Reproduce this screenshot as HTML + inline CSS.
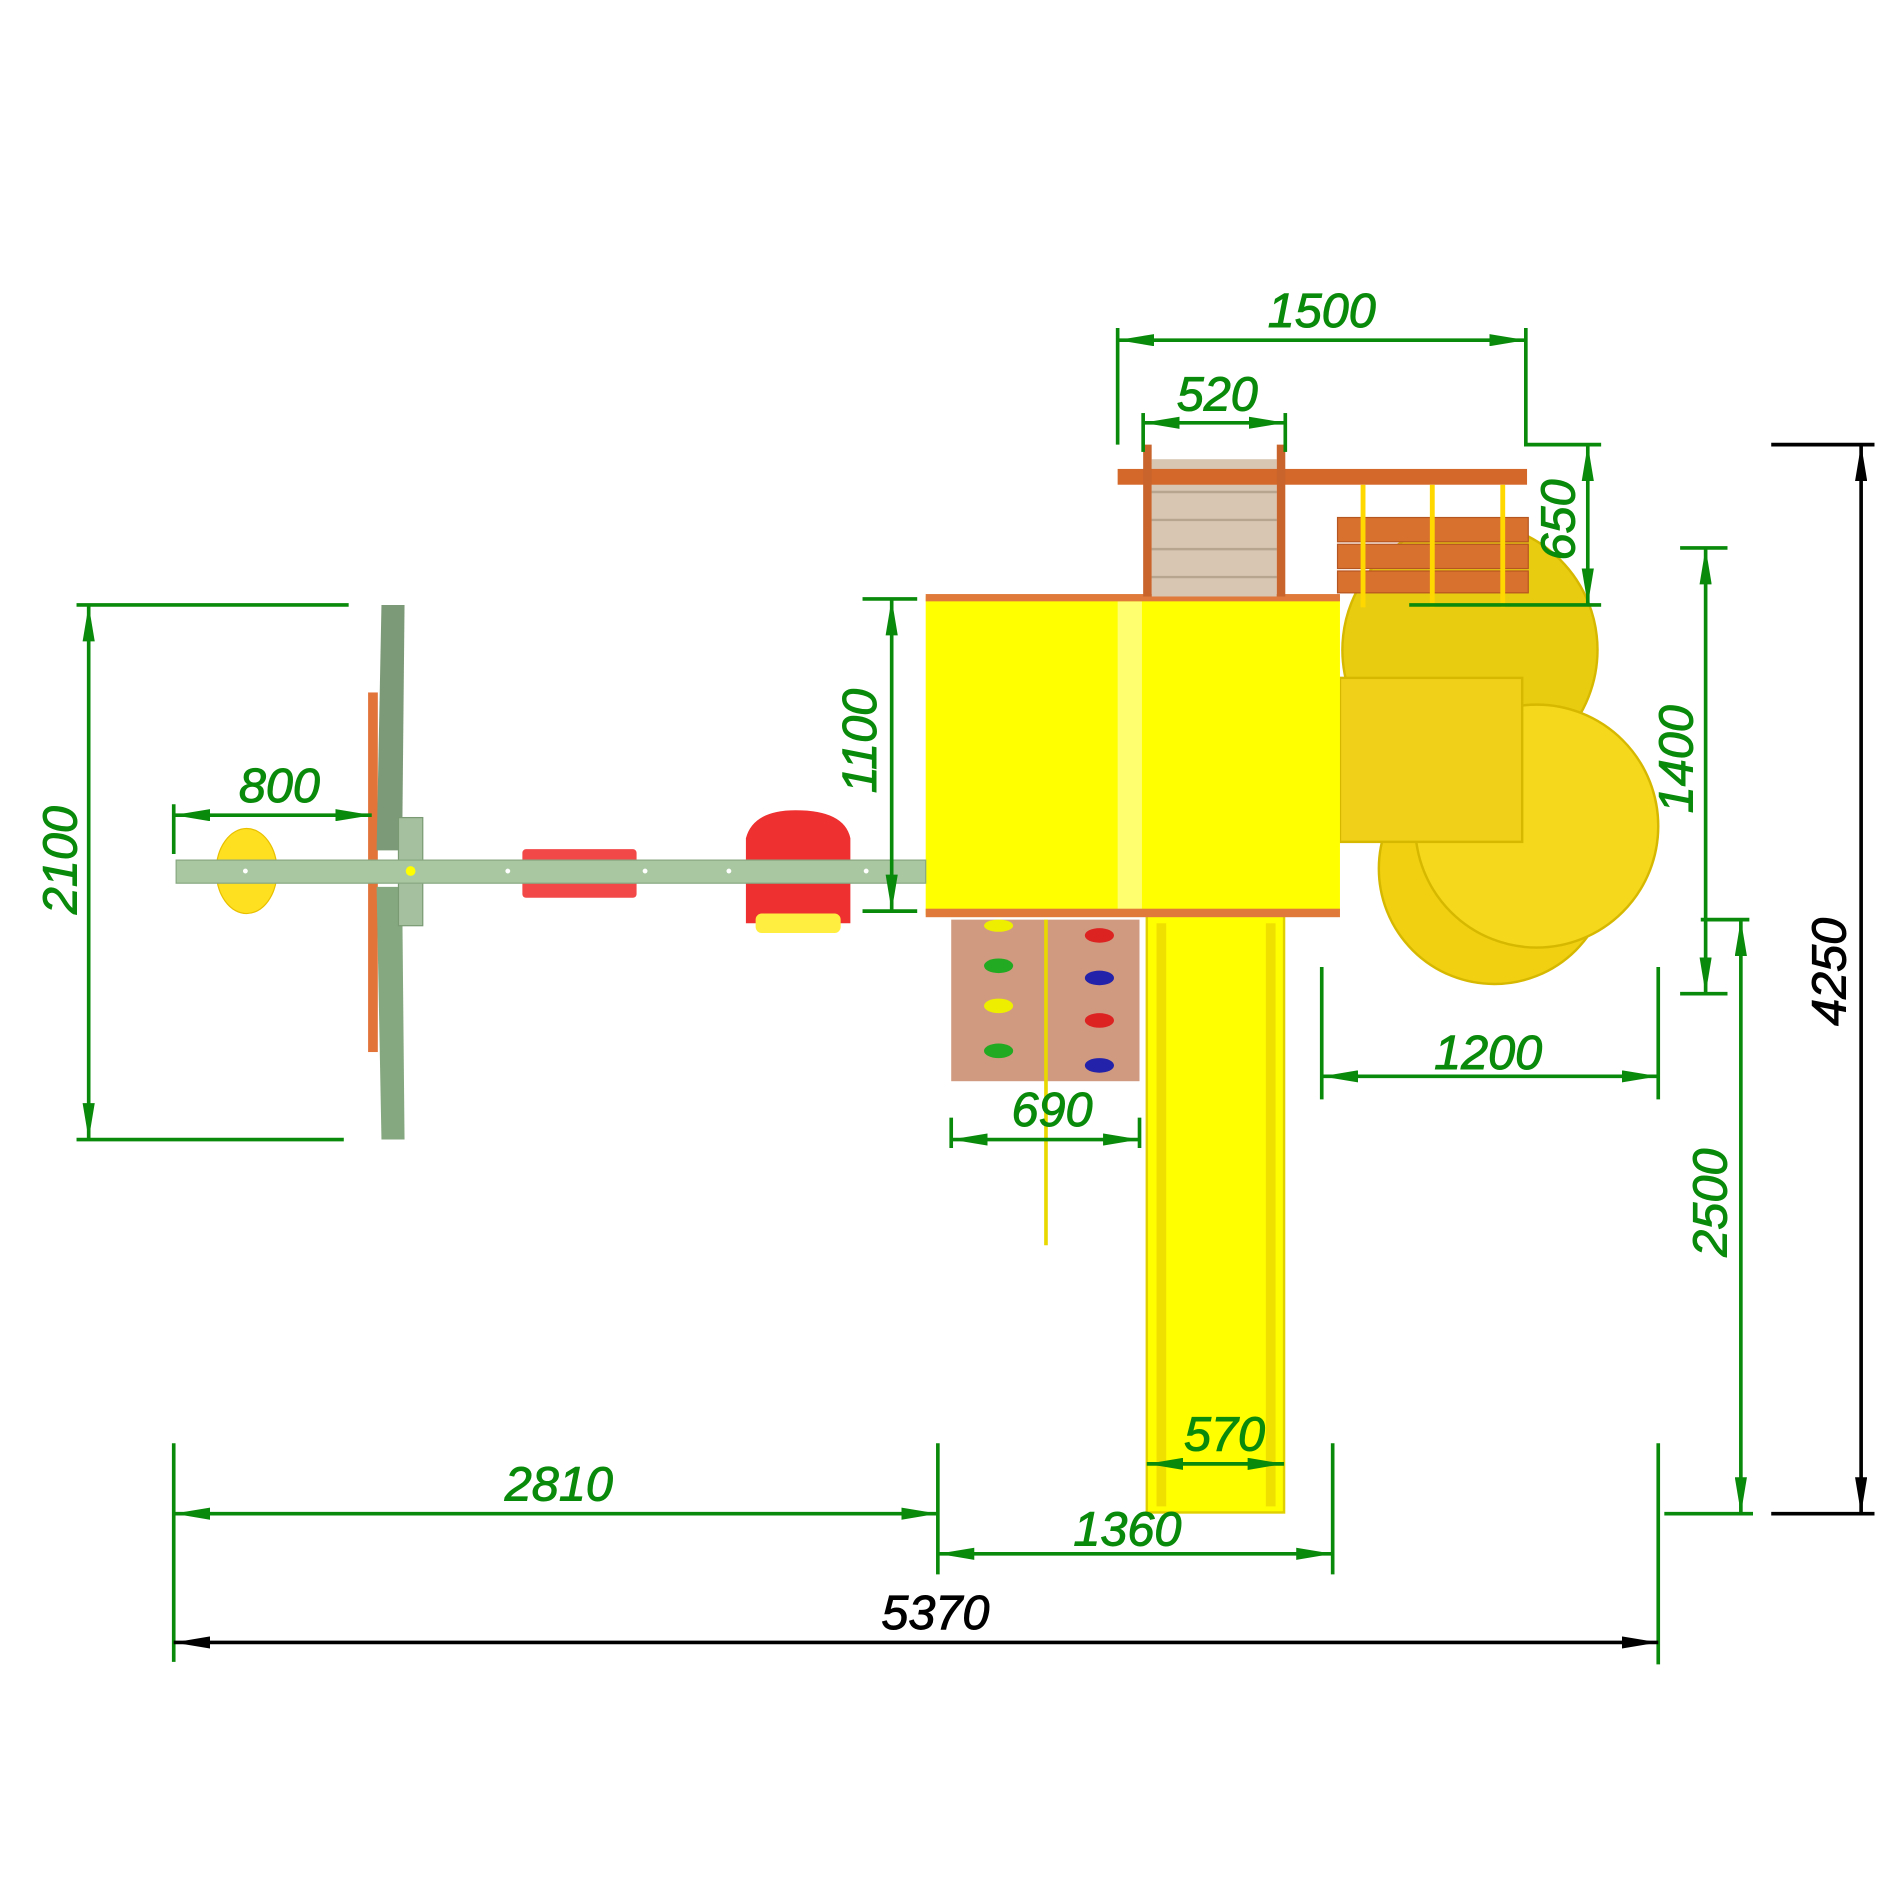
<!DOCTYPE html>
<html><head><style>html,body{margin:0;padding:0;background:#fff}svg{display:block}</style></head>
<body>
<svg width="1900" height="1900" viewBox="0 0 1564 1564" xmlns="http://www.w3.org/2000/svg">
<defs>
<marker id="g" viewBox="0 0 30 10" refX="30" refY="5" markerWidth="30" markerHeight="10" markerUnits="userSpaceOnUse" orient="auto-start-reverse"><path d="M0,0 L30,5 L0,10 Z" fill="#0a8a0a"/></marker>
<marker id="k" viewBox="0 0 30 10" refX="30" refY="5" markerWidth="30" markerHeight="10" markerUnits="userSpaceOnUse" orient="auto-start-reverse"><path d="M0,0 L30,5 L0,10 Z" fill="#000"/></marker>
</defs>

<!-- spiral slide -->
<g stroke="#d6b800" stroke-width="2">
<circle cx="1210" cy="535" r="105" fill="#e8cc10"/>
<circle cx="1230" cy="715" r="95" fill="#f0d010"/>
<circle cx="1265" cy="680" r="100" fill="#f5d81c"/>
<rect x="1103" y="558" width="150" height="135" fill="#f0d018"/>
</g>
<!-- straight slide -->
<rect x="944" y="753" width="113" height="492" fill="#ffff00" stroke="#e0d000" stroke-width="2"/>
<rect x="952" y="760" width="8" height="480" fill="#f0e000"/>
<rect x="1042" y="760" width="8" height="480" fill="#f0e000"/>

<!-- climbing wall -->
<rect x="783" y="757" width="155" height="133" fill="#d09a80"/>
<g fill="#d22" ><ellipse cx="905" cy="770" rx="12" ry="6"/><ellipse cx="905" cy="840" rx="12" ry="6"/></g>
<g fill="#22a"><ellipse cx="905" cy="805" rx="12" ry="6"/><ellipse cx="905" cy="877" rx="12" ry="6"/></g>
<g fill="#2a2"><ellipse cx="822" cy="795" rx="12" ry="6"/><ellipse cx="822" cy="865" rx="12" ry="6"/></g>
<g fill="#ee0"><ellipse cx="822" cy="762" rx="12" ry="5"/><ellipse cx="822" cy="828" rx="12" ry="6"/></g>
<line x1="861" y1="757" x2="861" y2="1025" stroke="#e8d800" stroke-width="3"/>

<!-- tower -->
<rect x="762" y="491" width="341" height="262" fill="#ffff00"/>
<rect x="920" y="495" width="20" height="254" fill="#ffff70"/>
<rect x="762" y="489" width="341" height="6" fill="#e07a3a"/>
<rect x="762" y="748" width="341" height="7" fill="#e07a3a"/>

<!-- stairs & beam -->
<rect x="948" y="378" width="103" height="113" fill="#d8c6b2"/>
<g stroke="#b8a590" stroke-width="2"><line x1="948" y1="405" x2="1051" y2="405"/><line x1="948" y1="428" x2="1051" y2="428"/><line x1="948" y1="452" x2="1051" y2="452"/><line x1="948" y1="475" x2="1051" y2="475"/></g>
<rect x="920" y="386" width="337" height="13" fill="#d4682a"/>
<rect x="941" y="366" width="7" height="125" fill="#c8642c"/>
<rect x="1051" y="366" width="7" height="125" fill="#c8642c"/>
<rect x="1101" y="426" width="157" height="20" fill="#d8702e" stroke="#b55520"/>
<rect x="1101" y="448" width="157" height="20" fill="#d8702e" stroke="#b55520"/>
<rect x="1101" y="470" width="157" height="18" fill="#d8702e" stroke="#b55520"/>
<g stroke="#ffd800" stroke-width="4"><line x1="1122" y1="399" x2="1122" y2="500"/><line x1="1179" y1="399" x2="1179" y2="500"/><line x1="1237" y1="399" x2="1237" y2="500"/></g>

<!-- swing -->
<rect x="303" y="570" width="8" height="296" fill="#e2743a"/>
<polygon points="314,498 333,498 331,700 310,700" fill="#7d9a78"/>
<polygon points="310,730 331,730 333,938 314,938" fill="#86a880"/>
<rect x="328" y="673" width="20" height="89" fill="#a4c09e" stroke="#7a9a74"/>
<ellipse cx="203" cy="717" rx="25" ry="35" fill="#ffe020" stroke="#e8c000"/>
<rect x="430" y="699" width="94" height="40" rx="3" fill="#f24848"/>
<path d="M614,690 Q620,667 655,667 Q695,667 700,690 L700,760 L614,760 Z" fill="#ee3030"/>
<rect x="622" y="752" width="70" height="16" rx="5" fill="#ffee40"/>
<rect x="145" y="708" width="617" height="19" fill="#a9c8a2" stroke="#88a882"/>
<g fill="#fff"><circle cx="202" cy="717" r="2"/><circle cx="418" cy="717" r="2"/><circle cx="531" cy="717" r="2"/><circle cx="600" cy="717" r="2"/><circle cx="713" cy="717" r="2"/></g>
<circle cx="338" cy="717" r="4" fill="#ff0"/>

<!-- dimensions -->
<g stroke="#0a8a0a" stroke-width="3" fill="none">
<line x1="73" y1="498" x2="73" y2="938" marker-start="url(#g)" marker-end="url(#g)"/>
<line x1="63" y1="498" x2="287" y2="498"/><line x1="63" y1="938" x2="283" y2="938"/>
<line x1="143" y1="671" x2="306" y2="671" marker-start="url(#g)" marker-end="url(#g)"/>
<line x1="143" y1="662" x2="143" y2="703"/>
<line x1="734" y1="493" x2="734" y2="750" marker-start="url(#g)" marker-end="url(#g)"/>
<line x1="710" y1="493" x2="755" y2="493"/><line x1="710" y1="750" x2="755" y2="750"/>
<line x1="920" y1="280" x2="1256" y2="280" marker-start="url(#g)" marker-end="url(#g)"/>
<line x1="920" y1="270" x2="920" y2="366"/><polyline points="1256,270 1256,366 1318,366"/>
<line x1="941" y1="348" x2="1058" y2="348" marker-start="url(#g)" marker-end="url(#g)"/>
<line x1="941" y1="340" x2="941" y2="372"/><line x1="1058" y1="340" x2="1058" y2="372"/>
<line x1="1307" y1="366" x2="1307" y2="498" marker-start="url(#g)" marker-end="url(#g)"/>
<line x1="1160" y1="498" x2="1318" y2="498"/>
<line x1="1404" y1="451" x2="1404" y2="818" marker-start="url(#g)" marker-end="url(#g)"/>
<line x1="1383" y1="451" x2="1422" y2="451"/><line x1="1383" y1="818" x2="1422" y2="818"/>
<line x1="1433" y1="757" x2="1433" y2="1246" marker-start="url(#g)" marker-end="url(#g)"/>
<line x1="1400" y1="757" x2="1440" y2="757"/><line x1="1370" y1="1246" x2="1443" y2="1246"/>
<line x1="1088" y1="886" x2="1365" y2="886" marker-start="url(#g)" marker-end="url(#g)"/>
<line x1="1088" y1="796" x2="1088" y2="905"/><line x1="1365" y1="796" x2="1365" y2="905"/>
<line x1="783" y1="938" x2="938" y2="938" marker-start="url(#g)" marker-end="url(#g)"/>
<line x1="783" y1="920" x2="783" y2="945"/><line x1="938" y1="920" x2="938" y2="945"/>
<line x1="944" y1="1205" x2="1057" y2="1205" marker-start="url(#g)" marker-end="url(#g)"/>
<line x1="143" y1="1246" x2="772" y2="1246" marker-start="url(#g)" marker-end="url(#g)"/>
<line x1="143" y1="1188" x2="143" y2="1368"/><line x1="772" y1="1188" x2="772" y2="1296"/>
<line x1="772" y1="1279" x2="1097" y2="1279" marker-start="url(#g)" marker-end="url(#g)"/>
<line x1="1097" y1="1188" x2="1097" y2="1296"/><line x1="1365" y1="1188" x2="1365" y2="1370"/>
</g>
<g stroke="#000" stroke-width="3" fill="none">
<line x1="1532" y1="366" x2="1532" y2="1246" marker-start="url(#k)" marker-end="url(#k)"/>
<line x1="1458" y1="366" x2="1543" y2="366"/><line x1="1458" y1="1246" x2="1543" y2="1246"/>
<line x1="143" y1="1352" x2="1365" y2="1352" marker-start="url(#k)" marker-end="url(#k)"/>
</g>

<g font-family="Liberation Sans, sans-serif" font-style="italic" font-size="40" fill="#0a8a0a" stroke="#0a8a0a" stroke-width="0.8" text-anchor="middle">
<text x="1088" y="269">1500</text>
<text x="1002" y="338">520</text>
<text x="230" y="660">800</text>
<text x="1225" y="880">1200</text>
<text x="866" y="927">690</text>
<text x="1008" y="1194">570</text>
<text x="460" y="1235">2810</text>
<text x="928" y="1272">1360</text>
<text transform="translate(63,708) rotate(-90)">2100</text>
<text transform="translate(721,610) rotate(-90)">1100</text>
<text transform="translate(1296,428) rotate(-90)">650</text>
<text transform="translate(1393,625) rotate(-90)">1400</text>
<text transform="translate(1421,990) rotate(-90)">2500</text>
<text fill="#000" stroke="#000" x="770" y="1341">5370</text>
<text fill="#000" stroke="#000" transform="translate(1519,800) rotate(-90)">4250</text>
</g>
</svg>
</body></html>
